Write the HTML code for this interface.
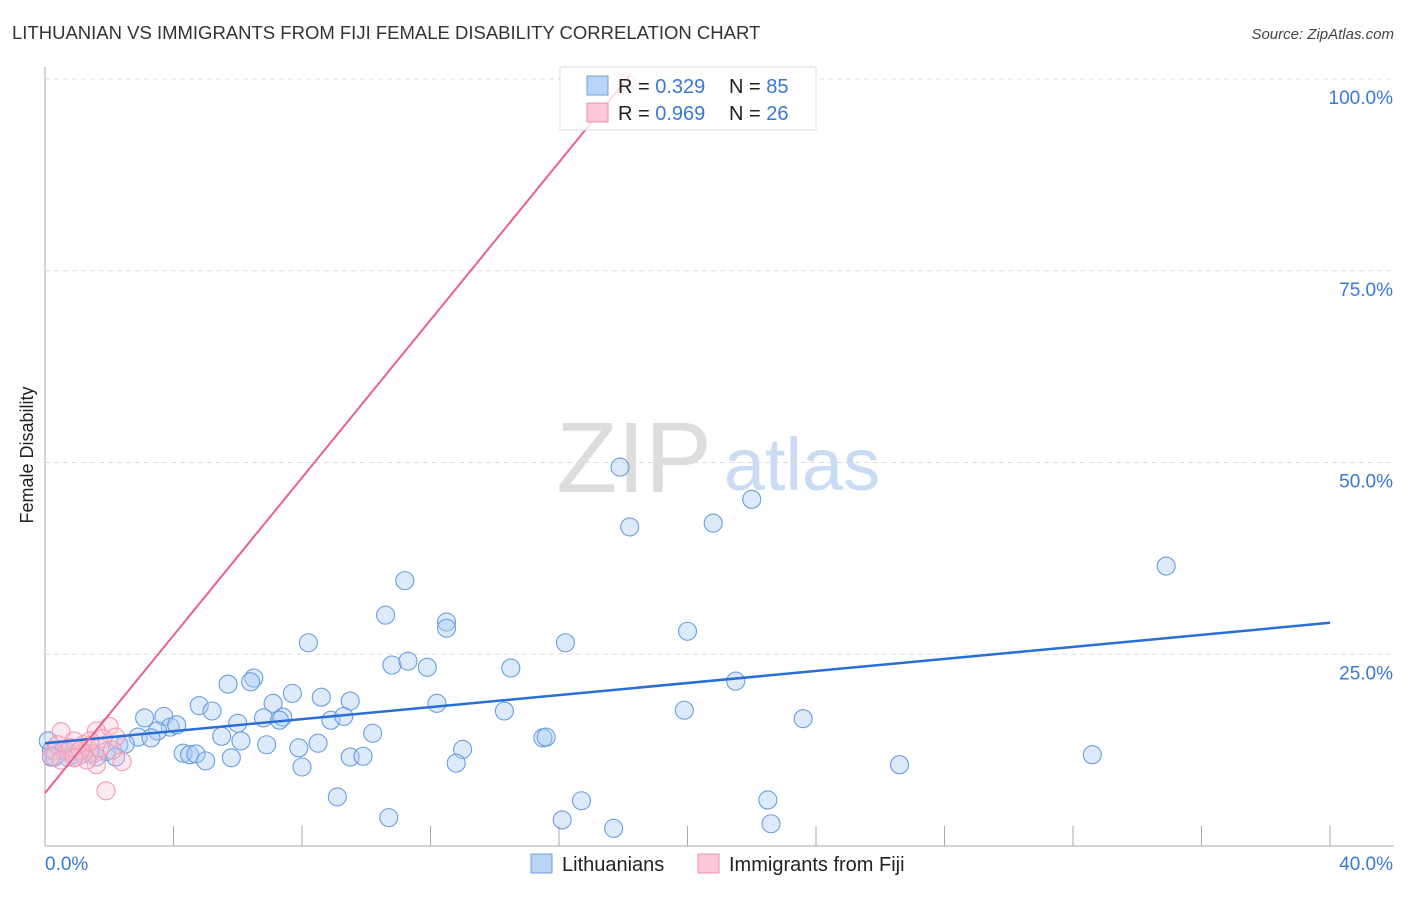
<!DOCTYPE html>
<html><head><meta charset="utf-8"><style>
body{margin:0;background:#fff;font-family:"Liberation Sans",sans-serif;}
svg text{font-family:"Liberation Sans",sans-serif;}
</style></head><body>
<svg id="chart" width="1406" height="892" xmlns="http://www.w3.org/2000/svg">
<text x="12" y="39" font-size="18.5" fill="#333">LITHUANIAN VS IMMIGRANTS FROM FIJI FEMALE DISABILITY CORRELATION CHART</text>
<text x="1394" y="39" font-size="15" fill="#444" font-style="italic" text-anchor="end">Source: ZipAtlas.com</text>
<text x="33" y="455" font-size="18" fill="#222" text-anchor="middle" transform="rotate(-90 33 455)">Female Disability</text>
<g><text x="634" y="492" font-size="100" fill="#ddd" font-family="Liberation Serif" text-anchor="middle">ZIP</text><text x="802" y="490" font-size="74" fill="#c9dcf3" text-anchor="middle">atlas</text></g>
<g id="grid"></g><g id="axes"></g>
<g id="pts"></g><g id="lines"></g>
<g>
<rect x="560" y="67" width="256" height="63" fill="rgba(255,255,255,0.8)" stroke="#ddd"/>
<rect x="587" y="76" width="21" height="19" fill="#b9d4f5" stroke="#6fa0de"/>
<rect x="587" y="103" width="21" height="19" fill="#fcc7d6" stroke="#ef8fad"/>
<text x="618" y="93" font-size="20" fill="#222">R = <tspan fill="#3a78d8">0.329</tspan></text>
<text x="729" y="93" font-size="20" fill="#222">N = <tspan fill="#3a78d8">85</tspan></text>
<text x="618" y="120" font-size="20" fill="#222">R = <tspan fill="#3a78d8">0.969</tspan></text>
<text x="729" y="120" font-size="20" fill="#222">N = <tspan fill="#3a78d8">26</tspan></text>
</g>
<g>
<rect x="531" y="854" width="21" height="19" fill="#b9d4f5" stroke="#6fa0de"/>
<text x="562" y="871" font-size="20" fill="#222">Lithuanians</text>
<rect x="698" y="854" width="21" height="19" fill="#fcc7d6" stroke="#ef8fad"/>
<text x="729" y="871" font-size="20" fill="#222">Immigrants from Fiji</text>
</g>
</svg>
<script>
const blueX=[17.9,18.2,20.8,22.0,34.9,11.2,10.6,12.5,12.5,8.2,16.2,20.0,10.8,11.3,11.9,14.5,5.7,6.5,6.4,7.7,7.1,8.6,9.5,12.2,14.3,19.9,21.5,23.6,4.8,5.2,6.0,6.8,7.4,7.3,8.9,9.3,10.2,3.1,3.7,3.9,4.1,3.5,2.9,3.3,5.5,6.1,6.9,7.9,8.5,9.5,9.9,13.0,12.8,15.5,15.6,4.3,4.5,4.7,5.0,5.8,8.0,2.3,2.5,1.9,1.6,2.2,1.4,1.2,0.9,0.7,0.5,0.2,0.1,0.3,0.6,26.6,32.6,9.1,16.7,22.5,10.7,16.1,17.7,22.6,0.2];
const blueY=[49.4,41.6,42.1,45.2,36.5,34.6,30.1,29.2,28.4,26.5,26.5,28.0,23.6,24.1,23.3,23.2,21.1,21.9,21.4,19.9,18.6,19.4,18.9,18.6,17.6,17.7,21.5,16.6,18.3,17.6,16.0,16.7,16.8,16.4,16.4,16.9,14.7,16.7,16.9,15.5,15.8,15.0,14.2,14.1,14.3,13.7,13.2,12.8,13.4,11.6,11.7,12.6,10.8,14.1,14.2,12.1,11.9,12.0,11.1,11.5,10.3,13.2,13.3,12.3,11.6,11.6,12.1,12.0,11.9,11.6,12.5,12.5,13.7,11.6,12.5,10.6,11.9,6.4,5.9,6.0,3.7,3.4,2.3,2.9,11.6];
const pinkX=[18.1,2.0,0.5,1.6,0.9,1.3,1.8,2.2,1.2,0.3,0.7,1.5,1.6,1.0,1.3,2.4,0.4,0.8,1.1,1.7,0.2,0.5,0.9,2.1,1.9,1.4];
const pinkY=[99.6,15.6,14.9,15.0,13.7,12.9,14.0,14.2,13.2,12.4,12.3,12.0,10.6,11.6,11.2,11.0,13.2,12.8,12.5,12.8,11.7,11.2,11.5,12.5,7.2,13.7];
const blueTrend=[13.4,29.1]; // y at x=0 and x=40
const pinkTrend=[6.9,5.14]; // intercept, slope
const yTicks=[25,50,75,100];
const NS="http://www.w3.org/2000/svg";
const X=v=>45+v*32.125, Y=v=>846-v*7.67;
function mk(t,a,p){const e=document.createElementNS(NS,t);for(const k in a)e.setAttribute(k,a[k]);document.getElementById(p).appendChild(e);return e;}
yTicks.forEach(t=>{
 const l=mk('line',{x1:45,x2:1394,y1:Y(t),y2:Y(t),stroke:'#ddd','stroke-dasharray':'5,4'},'grid');
 
 
 const tx=mk('text',{x:1393,y:Y(t)+25,'font-size':19,fill:'#3a78d8','text-anchor':'end'},'axes');tx.textContent=t.toFixed(1)+'%';
 
 
});
mk('line',{x1:45,x2:45,y1:67,y2:846,stroke:'#aaa'},'axes');
mk('line',{x1:45,x2:1394,y1:846,y2:846,stroke:'#aaa'},'axes');
for(let i=0;i<=10;i++){const v=i*4;mk('line',{x1:X(v),x2:X(v),y1:826,y2:846,stroke:'#aaa'},'axes');}
let t0=mk('text',{x:45,y:870,'font-size':19,fill:'#3a78d8'},'axes');t0.textContent='0.0%';


let t1=mk('text',{x:1393,y:870,'font-size':19,fill:'#3a78d8','text-anchor':'end'},'axes');t1.textContent='40.0%';


blueX.forEach((x,i)=>{const c=mk('circle',{cx:X(x),cy:Y(blueY[i]),r:9,fill:'rgba(170,202,242,0.4)',stroke:'#6a9de0','stroke-width':1.1},'pts');
 
 });
pinkX.forEach((x,i)=>{const c=mk('circle',{cx:X(x),cy:Y(pinkY[i]),r:9,fill:'rgba(250,195,212,0.35)',stroke:'#f09ab5','stroke-width':1.1},'pts');
 
 });
const bl=mk('line',{x1:X(0),y1:Y(blueTrend[0]),x2:X(40),y2:Y(blueTrend[1]),stroke:'#2a6fd6','stroke-width':2.5},'lines');


const xe=(100.5-pinkTrend[0])/pinkTrend[1];
const pl=mk('line',{x1:X(0),y1:Y(pinkTrend[0]),x2:X(xe),y2:Y(pinkTrend[0]+pinkTrend[1]*xe),stroke:'#e9628e','stroke-width':2},'lines');


</script>
</body></html>
